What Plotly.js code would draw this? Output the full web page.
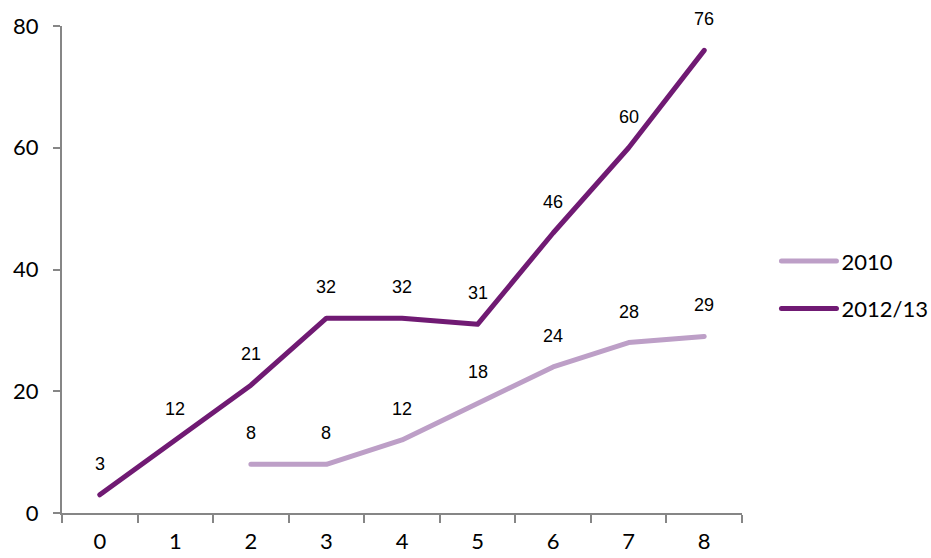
<!DOCTYPE html>
<html><head><meta charset="utf-8">
<script src="https://cdn.plot.ly/plotly-3.0.1.min.js"></script>
<style>html,body{margin:0;padding:0;background:#fff}#c{width:931px;height:558px}
#c .scatterlayer path.js-line, #c .legendlines path{stroke-linecap:round;stroke-linejoin:round}</style>
</head><body><div id="c"></div>
<script>
var categories = ['0','1','2','3','4','5','6','7','8'];
var series2010 = [null, null, 8, 8, 12, 18, 24, 28, 29];
var series2012 = [3, 12, 21, 32, 32, 31, 46, 60, 76];
var seriesNames = ['2010', '2012/13'];
var colors = ['#bd9fc7', '#701a73'];

var traces = [
  {x: categories, y: series2010, name: seriesNames[0], mode: 'lines', type: 'scatter', legendgroup: 'a',
   line: {color: colors[0], width: 5}, connectgaps: false, hoverinfo: 'none'},
  {x: categories, y: series2012, name: seriesNames[1], mode: 'lines', type: 'scatter', legendgroup: 'b',
   line: {color: colors[1], width: 5}, hoverinfo: 'none'}
];

var annotations = [];
[series2010, series2012].forEach(function(s){
  s.forEach(function(v, i){
    if (v === null) return;
    annotations.push({x: categories[i], y: v, xref: 'x', yref: 'y', text: String(v),
      showarrow: false, yshift: 31, font: {family: 'Liberation Sans, Arial', size: 18, color: '#000'}});
  });
});

var layout = {
  width: 931, height: 558,
  margin: {l: 62, r: 189, t: 26, b: 45, autoexpand: false},
  paper_bgcolor: '#fff', plot_bgcolor: '#fff',
  showlegend: true,
  legend: {xref: 'container', yref: 'container', x: 0.834, y: 0.489, xanchor: 'left', yanchor: 'middle',
    traceorder: 'grouped',
    font: {family: 'Lato, Open Sans, sans-serif', size: 22, color: '#000'},
    tracegroupgap: 16, itemwidth: 55},
  xaxis: {type: 'category', range: [-0.5, 8.5], showgrid: false, zeroline: false,
    showline: true, linecolor: '#868686', linewidth: 2,
    ticks: 'outside', tickson: 'boundaries', ticklen: 8, tickwidth: 2, tickcolor: '#868686',
    ticklabelstandoff: 8,
    tickfont: {family: 'Lato, Open Sans, sans-serif', size: 22, color: '#000'}},
  yaxis: {range: [0, 80], dtick: 20, showgrid: false, zeroline: false,
    showline: true, linecolor: '#868686', linewidth: 2,
    ticks: 'outside', ticklen: 7, tickwidth: 2, tickcolor: '#868686',
    ticklabelstandoff: 10,
    tickfont: {family: 'Lato, Open Sans, sans-serif', size: 22, color: '#000'}},
  annotations: annotations
};

Plotly.newPlot('c', traces, layout, {staticPlot: true});
</script></body></html>
